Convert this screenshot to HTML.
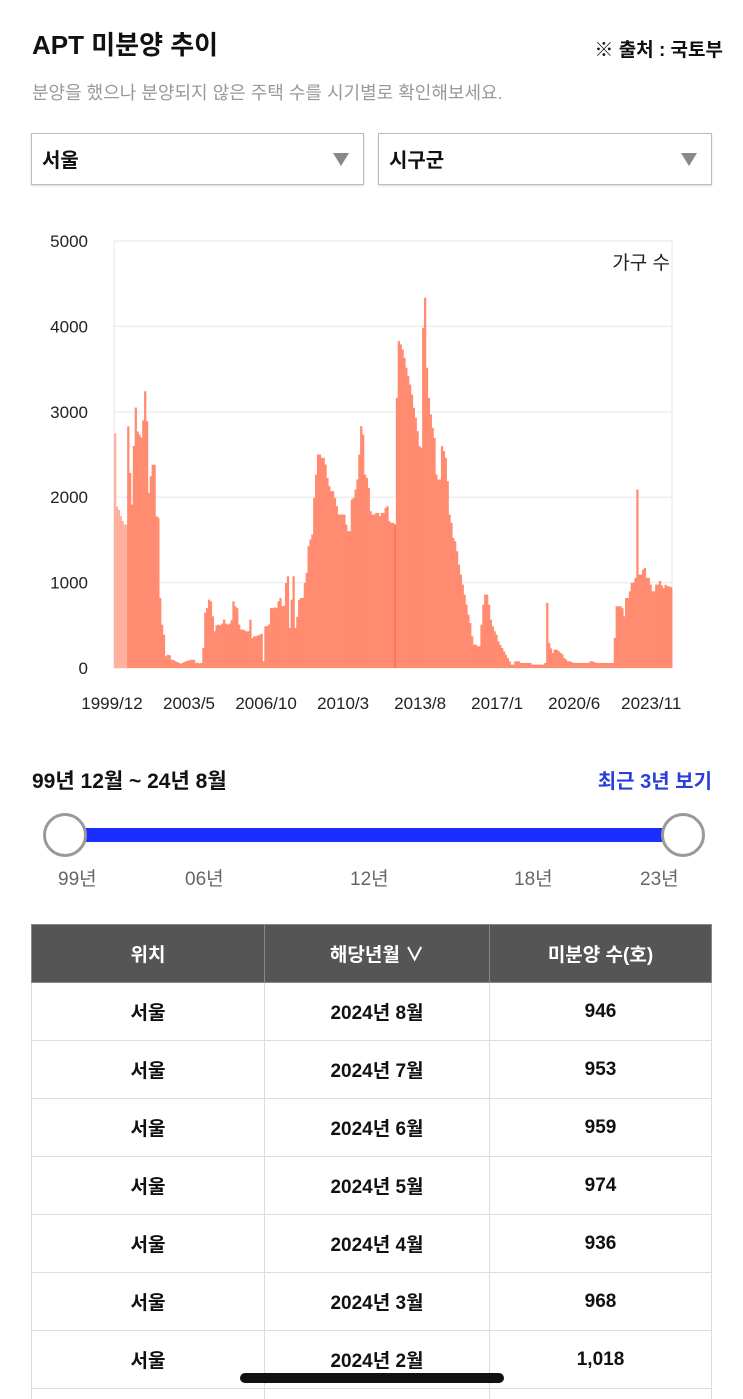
<!DOCTYPE html>
<html><head><meta charset="utf-8">
<style>
html,body{margin:0;width:743px;height:1399px;overflow:hidden}
body{background:#fff;font-family:"Liberation Sans","Noto Sans CJK KR",sans-serif;position:relative;color:#111}
.a{position:absolute;white-space:nowrap}
.dd{position:absolute;top:133px;height:52px;border:1px solid #bbb;box-sizing:border-box;background:#fff;box-shadow:0 1px 2px rgba(0,0,0,0.15)}
.dd span{position:absolute;left:10px;top:10px;font-size:20px;font-weight:bold}
.dd i{position:absolute;right:14px;top:19px;width:0;height:0;border-left:8px solid transparent;border-right:8px solid transparent;border-top:13px solid #888}
table{position:absolute;left:31px;top:924px;border-collapse:collapse;width:681px}
td,th{border:1px solid #ddd;height:57px;text-align:center;font-size:19px;font-weight:bold;padding:0;vertical-align:middle}
th{background:#555;color:#fff;border-color:#888;font-weight:bold}
</style></head><body>
<div class="a" style="left:32px;top:25px;font-size:26px;font-weight:bold">APT 미분양 추이</div>
<div class="a" style="right:20px;top:35px;font-size:19px;font-weight:bold">※ 출처 : 국토부</div>
<div class="a" style="left:32px;top:79px;font-size:18px;color:#999">분양을 했으나 분양되지 않은 주택 수를 시기별로 확인해보세요.</div>
<div class="dd" style="left:31px;width:333px"><span>서울</span><i></i></div>
<div class="dd" style="left:378px;width:334px"><span>시구군</span><i></i></div>
<svg class="a" id="chart" style="left:0;top:220px" width="743" height="500"></svg>
<div class="a" style="left:32px;top:765px;font-size:21px;font-weight:bold">99년 12월 ~ 24년 8월</div>
<div class="a" style="right:31px;top:765px;font-size:20px;font-weight:bold;color:#2a3fd8">최근 3년 보기</div>
<div class="a" style="left:65px;top:828px;width:618px;height:14px;background:#1a2eff"></div>
<div class="a" style="left:43px;top:813px;width:38px;height:38px;border-radius:50%;border:3px solid #999;background:#fff"></div>
<div class="a" style="left:661px;top:813px;width:38px;height:38px;border-radius:50%;border:3px solid #999;background:#fff"></div>
<div class="a" style="left:58px;top:864px;font-size:19px;color:#666">99년</div>
<div class="a" style="left:185px;top:864px;font-size:19px;color:#666">06년</div>
<div class="a" style="left:350px;top:864px;font-size:19px;color:#666">12년</div>
<div class="a" style="left:514px;top:864px;font-size:19px;color:#666">18년</div>
<div class="a" style="left:640px;top:864px;font-size:19px;color:#666">23년</div>
<table>
<tr><th style="width:232px">위치</th><th style="width:224px">해당년월 ∨</th><th>미분양 수(호)</th></tr>
<tr><td>서울</td><td>2024년 8월</td><td>946</td></tr>
<tr><td>서울</td><td>2024년 7월</td><td>953</td></tr>
<tr><td>서울</td><td>2024년 6월</td><td>959</td></tr>
<tr><td>서울</td><td>2024년 5월</td><td>974</td></tr>
<tr><td>서울</td><td>2024년 4월</td><td>936</td></tr>
<tr><td>서울</td><td>2024년 3월</td><td>968</td></tr>
<tr><td>서울</td><td>2024년 2월</td><td>1,018</td></tr>
<tr><td>&nbsp;</td><td></td><td></td></tr>
</table>
<div class="a" style="left:240px;top:1373px;width:264px;height:10px;border-radius:5px;background:#111"></div>
<script>
const values=[2750,1890,1850,1780,1720,1680,1680,2830,2285,1914,2600,3050,2770,2730,2700,2900,3240,2890,2050,2245,2380,2380,1777,1760,820,508,390,137,156,150,98,95,80,70,60,50,60,70,80,90,90,98,95,60,60,55,60,234,650,703,800,780,605,430,500,508,500,520,566,520,508,520,560,781,722,700,508,450,450,440,430,430,566,350,371,371,380,390,400,78,488,490,508,703,700,710,703,781,820,722,730,996,1074,469,800,1074,469,600,800,820,820,996,1113,1426,1504,1563,1992,2265,2500,2500,2461,2461,2383,2226,2129,2070,2070,1992,1895,1797,1797,1797,1797,1680,1602,1602,1973,1992,2090,2207,2500,2832,2734,2265,2226,2109,1836,1797,1797,1816,1816,1777,1816,1816,1875,1895,1719,1700,1700,1680,3164,3828,3789,3730,3633,3516,3418,3320,3203,3047,2930,2773,2598,2578,3984,4336,3516,3164,2969,2813,2695,2266,2207,2207,2598,2539,2461,2188,1797,1700,1523,1484,1367,1211,1094,977,859,742,625,527,371,273,273,254,254,508,742,859,859,742,566,488,430,390,312,273,234,195,156,117,78,39,39,78,78,78,59,59,59,59,59,59,39,39,39,39,39,39,39,59,762,293,230,176,215,215,200,176,160,117,100,78,78,70,59,59,59,59,59,59,59,59,59,78,78,70,59,59,59,59,59,59,59,59,59,59,352,723,723,723,700,605,820,820,898,996,1000,1055,2090,1094,1094,1152,1172,1055,1055,977,898,898,977,977,1018,968,936,974,959,953,946];
const yTicks=[0,1000,2000,3000,4000,5000];
const xTickLabels=["1999/12","2003/5","2006/10","2010/3","2013/8","2017/1","2020/6","2023/11"];
const xTickIndex=[0,41,82,123,164,205,246,287];
const svg=document.getElementById('chart');const NS='http://www.w3.org/2000/svg';
const L=114,R=672,T=21,B=448,N=297,bw=(R-L)/N;
const y=v=>B-(v/5000)*(B-T);const x=i=>L+i*bw;
function mk(t,a){const e=document.createElementNS(NS,t);for(const k in a)e.setAttribute(k,a[k]);svg.appendChild(e);return e;}
yTicks.forEach(v=>{const g=mk('line',{x1:L,x2:R,y1:y(v),y2:y(v),stroke:'#eee','stroke-width':1.5});


const t=mk('text',{x:88,y:y(v)+6,'text-anchor':'end','font-size':17,fill:'#222'});t.textContent=v;

});
[L,R].forEach(px=>{const l=mk('line',{x1:px,x2:px,y1:T,y2:B,stroke:'#eee','stroke-width':1.5});

});
values.forEach((v,i)=>{const r=mk('rect',{x:x(i),y:y(v),width:bw+0.4,height:B-y(v),fill:i<7?'#ffb09e':(i===149?'#ff7458':'#ff8b70')});

});
xTickLabels.forEach((s,k)=>{const t=mk('text',{x:x(xTickIndex[k])-2,y:489,'text-anchor':'middle','font-size':17,fill:'#222'});t.textContent=s;

});
const u=mk('text',{x:670,y:49,'text-anchor':'end','font-size':19,fill:'#222'});u.textContent='가구 수';


</script>
</body></html>
